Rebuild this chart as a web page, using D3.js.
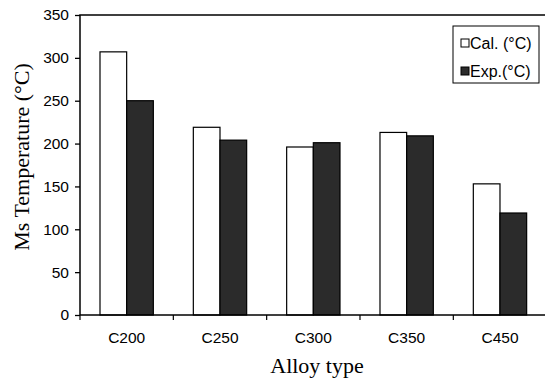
<!DOCTYPE html>
<html>
<head>
<meta charset="utf-8">
<script src="https://cdn.jsdelivr.net/npm/d3@7/dist/d3.min.js"></script>
<style>
  html, body { margin: 0; padding: 0; background: #fff; }
  svg { display: block; }
</style>
</head>
<body>
<svg id="chart" width="545" height="378"></svg>
<script>
// Alloy categories and Ms temperatures (°C)
const categories = ["C200", "C250", "C300", "C350", "C450"];
const seriesNames = ["Cal. (°C)", "Exp.(°C)"];
const calValues = [307, 219, 196, 213, 153];
const expValues = [250, 204, 201, 209, 119];
const yTicks = [0, 50, 100, 150, 200, 250, 300, 350];
const seriesFills = ["#ffffff", "#2b2b2b"];

const svg = d3.select("#chart");
const margin = { left: 80, top: 15 };
const step = 93.33;
const plotW = step * categories.length;
const plotH = 300;

const x0 = d3.scaleBand().domain(categories).range([margin.left, margin.left + plotW]).padding(0);
const x1 = d3.scaleBand().domain(seriesNames).range([0, x0.bandwidth()]).paddingInner(0).paddingOuter(0.75);
const y = d3.scaleLinear().domain([0, 350]).range([margin.top + plotH, margin.top]);

const rows = categories.map((c, i) => ({ cat: c, values: [calValues[i], expValues[i]] }));

// bars
const groups = svg.append("g").selectAll("g").data(rows).join("g")
  .attr("transform", d => `translate(${x0(d.cat)},0)`);
groups.selectAll("rect").data(d => d.values.map((v, j) => ({ name: seriesNames[j], v, j })))
  .join("rect")
  .attr("x", d => x1(d.name))
  .attr("y", d => y(d.v))
  .attr("width", x1.bandwidth())
  .attr("height", d => y(0) - y(d.v))
  .attr("fill", d => seriesFills[d.j])
  .attr("stroke", "#000")
  .attr("stroke-width", 1.2);

// plot frame (top, left, bottom; right edge runs past the page)
svg.append("rect")
  .attr("x", margin.left).attr("y", margin.top)
  .attr("width", plotW).attr("height", plotH)
  .attr("fill", "none").attr("stroke", "#000").attr("stroke-width", 1.5);

// y axis
const yAxis = svg.append("g").attr("transform", `translate(${margin.left},0)`)
  .call(d3.axisLeft(y).tickValues(yTicks).tickSize(5).tickPadding(6).tickSizeOuter(0));
yAxis.select(".domain").remove();
yAxis.selectAll("line").attr("stroke", "#000").attr("stroke-width", 1.3);
yAxis.selectAll("text").attr("font-family", "Liberation Sans, Arial, sans-serif").attr("font-size", 15.5).attr("fill", "#000");

// x axis labels
const xAxis = svg.append("g").attr("transform", `translate(0,${margin.top + plotH})`)
  .call(d3.axisBottom(x0).tickSize(0).tickPadding(17).tickSizeOuter(0));
xAxis.select(".domain").remove();
xAxis.selectAll("text").attr("font-family", "Liberation Sans, Arial, sans-serif").attr("font-size", 15.5).attr("fill", "#000");

// x tick marks at category boundaries
svg.append("g").selectAll("line").data(categories).join("line")
  .attr("x1", d => x0(d)).attr("x2", d => x0(d))
  .attr("y1", y(0)).attr("y2", y(0) + 5)
  .attr("stroke", "#000").attr("stroke-width", 1.2);

// axis titles
svg.append("text")
  .attr("transform", "translate(29,157) rotate(-90)")
  .attr("text-anchor", "middle")
  .attr("font-family", "Liberation Serif, Times New Roman, serif")
  .attr("font-size", 22)
  .text("Ms Temperature (°C)");
svg.append("text")
  .attr("x", 317).attr("y", 373)
  .attr("text-anchor", "middle")
  .attr("font-family", "Liberation Serif, Times New Roman, serif")
  .attr("font-size", 22)
  .text("Alloy type");

// legend
const legend = svg.append("g").attr("transform", "translate(453,26)");
legend.append("rect").attr("width", 86).attr("height", 57)
  .attr("fill", "#fff").attr("stroke", "#000").attr("stroke-width", 1);
const items = legend.selectAll("g.item").data(seriesNames).join("g")
  .attr("class", "item")
  .attr("transform", (d, i) => `translate(0,${13 + i * 28})`);
items.append("rect").attr("x", 8).attr("y", 0).attr("width", 8).attr("height", 8)
  .attr("fill", (d, i) => seriesFills[i]).attr("stroke", "#000").attr("stroke-width", 1);
items.append("text").attr("x", 17).attr("y", 9.5)
  .attr("font-family", "Liberation Sans, Arial, sans-serif").attr("font-size", 16)
  .text(d => d);
</script>
</body>
</html>
